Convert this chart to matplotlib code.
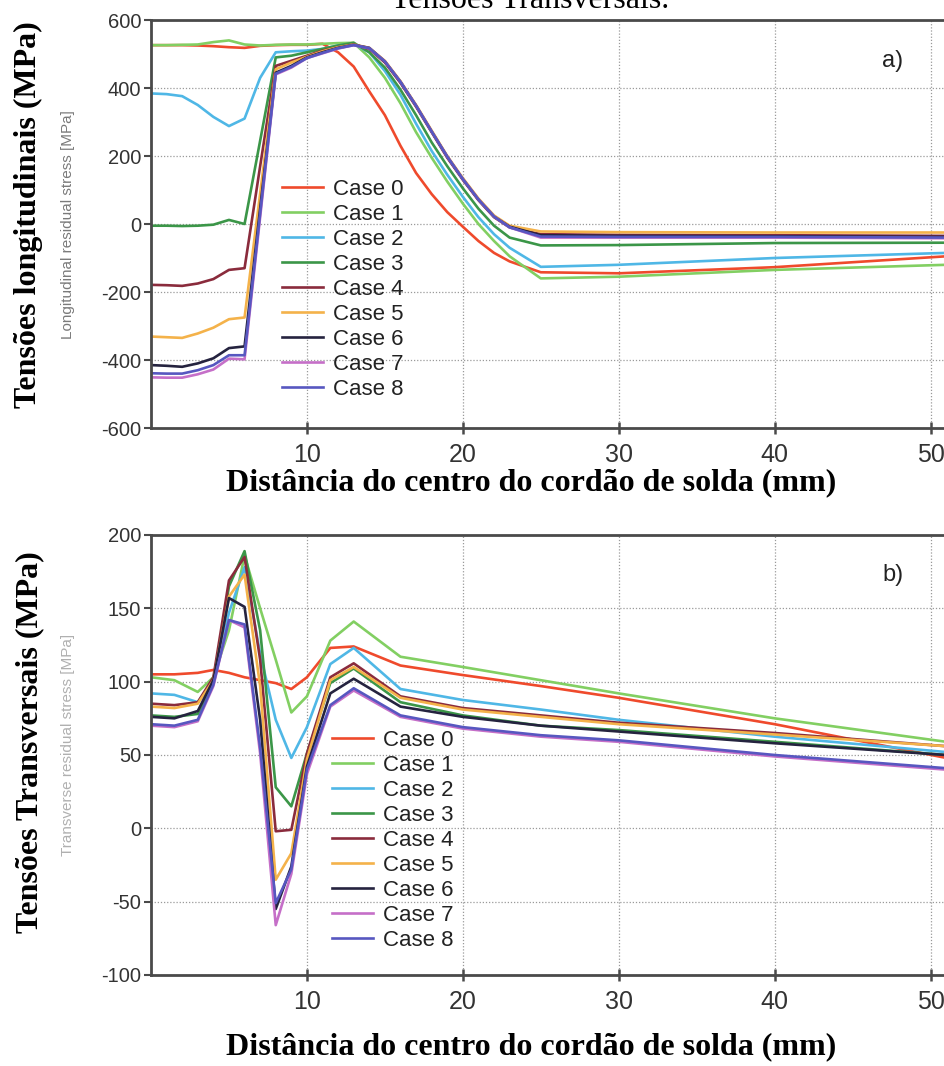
import matplotlib
matplotlib.use('Agg')
import matplotlib.pyplot as plt

plt.rcParams['axes.unicode_minus'] = False

# longitudinal stress (panel a)
x_long = [0, 1, 2, 3, 4, 5, 6, 7, 8, 9, 10, 11, 12, 13, 14, 15, 16, 17, 18, 19, 20, 21, 22, 23, 25, 30, 40, 51]
long_case0 = [526, 526, 526, 525, 523, 520, 518, 524, 526, 527, 527, 530, 505, 463, 390, 320, 230, 150, 88, 35, -8, -50, -85, -110, -142, -145, -127, -95]
long_case1 = [526, 526, 527, 528, 535, 540, 528, 525, 527, 528, 528, 530, 532, 533, 490, 430, 355, 270, 195, 125, 60, 0, -50, -95, -160, -155, -135, -120]
long_case2 = [384, 382, 376, 350, 315, 288, 310, 430, 505, 508, 510, 515, 525, 530, 505, 450, 380, 295, 215, 145, 80, 20, -30, -70, -126, -120, -100, -85]
long_case3 = [-5, -5, -6, -5, -2, 12, 0, 245, 490, 495, 505, 515, 525, 533, 505, 460, 395, 320, 240, 170, 105, 45, -5, -40, -63, -62, -56, -55]
long_case4 = [-179, -180, -182, -175, -162, -135, -130, 170, 465, 480, 495, 510, 520, 528, 515, 475, 415, 345, 270, 195, 130, 70, 20, -10, -30, -32, -33, -35]
long_case5 = [-331, -333, -335, -322, -305, -280, -275, 90, 455, 475, 492, 508, 520, 528, 518, 480, 420, 350, 275, 200, 135, 75, 25, -5, -22, -24, -25, -25]
long_case6 = [-415, -417, -420, -410, -395, -365, -360, 45, 445, 465, 490, 505, 518, 527, 518, 478, 418, 348, 272, 198, 132, 72, 22, -8, -33, -35, -36, -38]
long_case7 = [-451, -452, -452, -442, -428, -396, -398, 20, 440, 460, 488, 502, 516, 526, 517, 478, 418, 348, 272, 198, 132, 72, 22, -10, -40, -40, -40, -42]
long_case8 = [-439, -440, -440, -430, -415, -386, -386, 30, 442, 462, 488, 503, 517, 526, 517, 478, 418, 348, 272, 198, 132, 72, 22, -10, -37, -38, -38, -40]

# transverse stress (panel b)
x_trans = [0, 1.5, 3, 4, 5, 6, 7, 8, 9, 10, 11.5, 13, 16, 20, 25, 30, 40, 51]
trans_case0 = [105, 105, 106, 108, 106, 103, 101, 99, 95, 103, 123, 124, 111, 104.5, 97, 89, 71, 48]
trans_case1 = [103, 101, 93, 103, 135, 186, 150, 115, 79, 90, 128, 141, 117, 110, 101, 92, 75, 59]
trans_case2 = [92, 91, 86, 101, 147, 178, 119, 74, 48, 69, 112, 123, 95, 87.5, 81, 74, 62.5, 52]
trans_case3 = [77, 76, 78, 99, 165, 189, 135, 28, 15, 51, 99, 109, 86, 77, 70, 67, 59, 50]
trans_case4 = [85, 84, 86, 103, 169, 185, 115, -2, -1, 51, 103, 112.5, 90, 82, 77, 72, 65, 56]
trans_case5 = [83, 82, 85, 101, 158, 173, 97, -35, -17, 47, 101, 110, 89, 81, 76, 71, 64, 56]
trans_case6 = [76, 75, 80, 101, 157, 151, 74, -55, -26, 42, 92, 102, 83, 76, 70, 66, 58, 50]
trans_case7 = [70, 69, 73, 97, 142, 137, 51, -66, -31, 37, 83, 94, 76, 68, 62.5, 59, 49, 40]
trans_case8 = [71, 70, 74, 98, 142, 139, 55, -51, -28, 40, 84, 95.5, 77, 69, 63.5, 60, 50, 41]

case_labels = ['Case 0', 'Case 1', 'Case 2', 'Case 3', 'Case 4', 'Case 5', 'Case 6', 'Case 7', 'Case 8']
case_colors = ['#ef4a2c', '#82cf62', '#4fb7e6', '#3b9648', '#8a2b3c', '#f4b24a', '#25233f', '#c56fc8', '#5757c0']

long_series = [long_case0, long_case1, long_case2, long_case3, long_case4,
               long_case5, long_case6, long_case7, long_case8]
trans_series = [trans_case0, trans_case1, trans_case2, trans_case3, trans_case4,
                trans_case5, trans_case6, trans_case7, trans_case8]

W, H = 945, 1066
fig = plt.figure(figsize=(W / 100, H / 100), dpi=100)

serif = ['Liberation Serif', 'DejaVu Serif']
narrow = ['Liberation Sans Narrow', 'Liberation Sans', 'DejaVu Sans']
sans = ['Liberation Sans', 'DejaVu Sans']


def px_box(left, top, right, bottom):
    return [left / W, 1 - bottom / H, (right - left) / W, (bottom - top) / H]


def style_axes(ax, yticks):
    ax.set_xlim(0, 51.5)
    ax.set_xticks([10, 20, 30, 40, 50])
    ax.set_yticks(yticks)
    ax.set_ylim(yticks[0], yticks[-1])
    ax.grid(True, color='#9a9a9a', linestyle=(0, (1, 1.5)), linewidth=0.9)
    for side in ['left', 'bottom', 'top']:
        ax.spines[side].set_color('#4a4a4a')
        ax.spines[side].set_linewidth(2.0)
    ax.spines['right'].set_visible(False)
    ax.tick_params(axis='x', direction='inout', length=9, width=1.8, color='#4a4a4a',
                   pad=6, labelcolor='#333333')
    ax.tick_params(axis='y', direction='out', length=5, width=1.5, color='#4a4a4a',
                   pad=2, labelcolor='#333333')
    for lab in ax.get_xticklabels():
        lab.set_family(narrow)
        lab.set_fontsize(18)
    for lab in ax.get_yticklabels():
        lab.set_family(sans)
        lab.set_fontsize(14.5)


def add_legend(ax, lines, left_px, top_px):
    leg = ax.legend(lines, case_labels, loc='upper left', frameon=False,
                    bbox_to_anchor=(left_px / W, 1 - top_px / H),
                    bbox_transform=fig.transFigure, borderpad=0, borderaxespad=0,
                    handlelength=1.85, handletextpad=0.45, labelspacing=0.18,
                    prop={'family': sans, 'size': 16})
    for t in leg.get_texts():
        t.set_color('#222222')


# panel a
ax1 = fig.add_axes(px_box(151, 20, 954, 428))
lines1 = []
for vals, col in zip(long_series, case_colors):
    ln, = ax1.plot(x_long, vals, color=col, lw=1.9)
    lines1.append(ln)
style_axes(ax1, [-600, -400, -200, 0, 200, 400, 600])
add_legend(ax1, lines1, 282, 179)

# panel b
ax2 = fig.add_axes(px_box(151, 535, 954, 975))
lines2 = []
for vals, col in zip(trans_series, case_colors):
    ln, = ax2.plot(x_trans, vals, color=col, lw=1.9)
    lines2.append(ln)
style_axes(ax2, [-100, -50, 0, 50, 100, 150, 200])
add_legend(ax2, lines2, 332, 730)

# panel tags
fig.text(893 / W, 1 - 61 / H, 'a)', fontsize=17, family=sans, color='#222222',
         ha='center', va='center')
fig.text(893 / W, 1 - 575 / H, 'b)', fontsize=17, family=sans, color='#222222',
         ha='center', va='center')

# faded labels of the original scan
fig.text(68 / W, 1 - 225 / H, 'Longitudinal residual stress [MPa]', rotation=90,
         fontsize=11, family=sans, color='#7a7a7a', ha='center', va='center')
fig.text(68 / W, 1 - 745 / H, 'Transverse residual stress [MPa]', rotation=90,
         fontsize=11, family=sans, color='#b0b0b0', ha='center', va='center')

# overlaid portuguese labels
fig.text(28 / W, 1 - 215 / H, 'Tensões longitudinais (MPa)', rotation=90,
         fontsize=23, family=serif, weight='bold', ha='center', va='center')
fig.text(30 / W, 1 - 742 / H, 'Tensões Transversais (MPa)', rotation=90,
         fontsize=23, family=serif, weight='bold', ha='center', va='center')
fig.text(531 / W, 1 - 483 / H, 'Distância do centro do cordão de solda (mm)',
         fontsize=23, family=serif, weight='bold', ha='center', va='center')
fig.text(531 / W, 1 - 1047 / H, 'Distância do centro do cordão de solda (mm)',
         fontsize=23, family=serif, weight='bold', ha='center', va='center')
# title line of the page, cut by the top edge as in the scan
fig.text(530 / W, 1 - 8 / H, 'Tensões Transversais.', fontsize=23, family=serif,
         ha='center', va='baseline')

fig.savefig('out.png', dpi=100)
